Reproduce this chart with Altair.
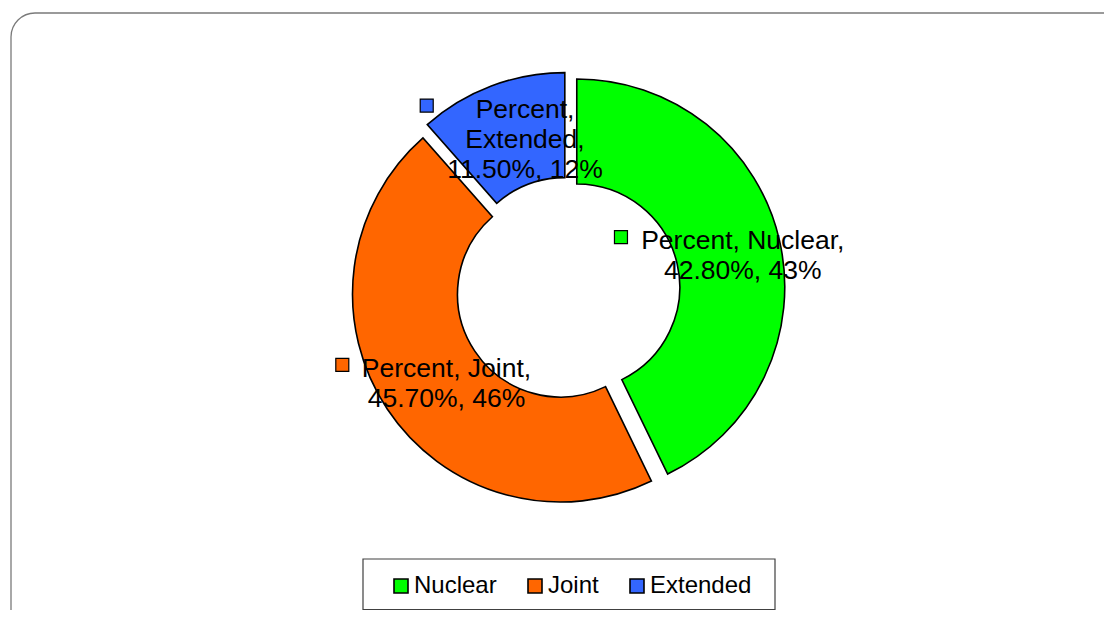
import math
import altair as alt
import pandas as pd

# ---- data ----
categories = ["Nuclear", "Joint", "Extended"]
percents = [42.8, 45.7, 11.5]
label_lines = [
    ["Percent, Nuclear,", "42.80%, 43%"],
    ["Percent, Joint,", "45.70%, 46%"],
    ["Percent,", "Extended,", "11.50%, 12%"],
]
colors = ["#00FF00", "#FF6600", "#3366FF"]

# ---- layout / style constants ----
W, H = 1096, 602
CX, CY = 560, 281          # donut centre inside the chart (px)
R_OUT, R_IN = 208, 103
EXPLODE = 9
LABEL_R = 155
FONT = "Liberation Sans"
FONT_SIZE = 26.5
LINE_H = 30
KEY = 13
KEY_GAP = 13
TEXT_SHIFT = -4            # nudge labels down (y up is positive)

ARIAL = {" ": 278, ",": 278, ".": 278, "%": 889, "P": 667, "e": 556, "r": 333,
         "c": 500, "n": 556, "t": 278, "N": 722, "u": 556, "l": 222, "a": 556,
         "J": 500, "o": 556, "i": 222, "E": 667, "x": 500, "d": 556}


def text_width(s, size):
    return sum(ARIAL.get(ch, 556) for ch in s) * size / 1000.0


rows = []
cum = 0.0
for i, (cat, p, lines) in enumerate(zip(categories, percents, label_lines)):
    start, end = cum, cum + p
    cum = end
    mid = (start + end) / 2 / 100 * 2 * math.pi
    ex, ey = EXPLODE * math.sin(mid), EXPLODE * math.cos(mid)
    lx = ex + LABEL_R * math.sin(mid)
    ly = ey + LABEL_R * math.cos(mid)
    maxw = max(text_width(l, FONT_SIZE) for l in lines)
    tx = lx + (KEY + KEY_GAP) / 2 + 2
    first_y = ly + (len(lines) - 1) * LINE_H / 2   # first text line (y up)
    kx = tx - maxw / 2 - KEY_GAP - KEY / 2
    rows.append(dict(category=cat, percent=p, start=start, end=end,
                     ex=ex, ey=ey, tx=tx, ty=first_y + TEXT_SHIFT, kx=kx,
                     ky=first_y, lines=lines))

df = pd.DataFrame(rows)

xs = alt.Scale(domain=[-CX, W - CX], nice=False, zero=False)
ys = alt.Scale(domain=[-(H - CY), CY], nice=False, zero=False)
theta_scale = alt.Scale(domain=[0, 100], range=[0, 2 * math.pi])
color_scale = alt.Scale(domain=categories, range=colors)

base = alt.Chart(df)

arcs = base.mark_arc(outerRadius=R_OUT, innerRadius=R_IN, stroke="black",
                     strokeWidth=1.6, opacity=1).encode(
    x=alt.X("ex:Q", scale=xs, axis=None),
    y=alt.Y("ey:Q", scale=ys, axis=None),
    theta=alt.Theta("start:Q", scale=theta_scale),
    theta2="end:Q",
    color=alt.Color(
        "category:N", scale=color_scale,
        legend=alt.Legend(
            orient="none", legendX=381, legendY=566, direction="horizontal",
            columns=3, title=None, symbolType="square", symbolSize=196,
            symbolStrokeColor="black", symbolStrokeWidth=1.6, symbolOpacity=1,
            labelFontSize=24, labelFont=FONT, labelColor="black",
            labelOffset=1, columnPadding=26, padding=0,
        ),
    ),
    tooltip=["category:N", "percent:Q"],
)

keys = base.mark_point(shape="square", filled=True, size=KEY * KEY,
                       stroke="black", strokeWidth=1.2, opacity=1).encode(
    x=alt.X("kx:Q", scale=xs, axis=None),
    y=alt.Y("ky:Q", scale=ys, axis=None),
    color=alt.Color("category:N", scale=color_scale, legend=None),
)

labels = base.mark_text(font=FONT, fontSize=FONT_SIZE, lineHeight=LINE_H,
                        align="center", baseline="middle", color="black").encode(
    x=alt.X("tx:Q", scale=xs, axis=None),
    y=alt.Y("ty:Q", scale=ys, axis=None),
    text="lines",
)

one = pd.DataFrame({"k": [0]})
frame = alt.Chart(one).mark_rect(fillOpacity=0, stroke="#7a7a7a", strokeWidth=1.3,
                                 cornerRadius=24).encode(
    x=alt.value(3), x2=alt.value(W + 200), y=alt.value(5), y2=alt.value(H + 200)
)
legend_box = alt.Chart(one).mark_rect(fillOpacity=0, stroke="#404040",
                                      strokeWidth=1.2).encode(
    x=alt.value(355), x2=alt.value(767), y=alt.value(551), y2=alt.value(601.5)
)

chart = alt.layer(frame, legend_box, arcs, keys, labels).properties(
    width=W, height=H, padding=0,
    autosize=alt.AutoSizeParams(type="none"),
).configure_view(stroke="transparent")

chart.save("out.html", embed_options={"renderer": "svg", "actions": False})
